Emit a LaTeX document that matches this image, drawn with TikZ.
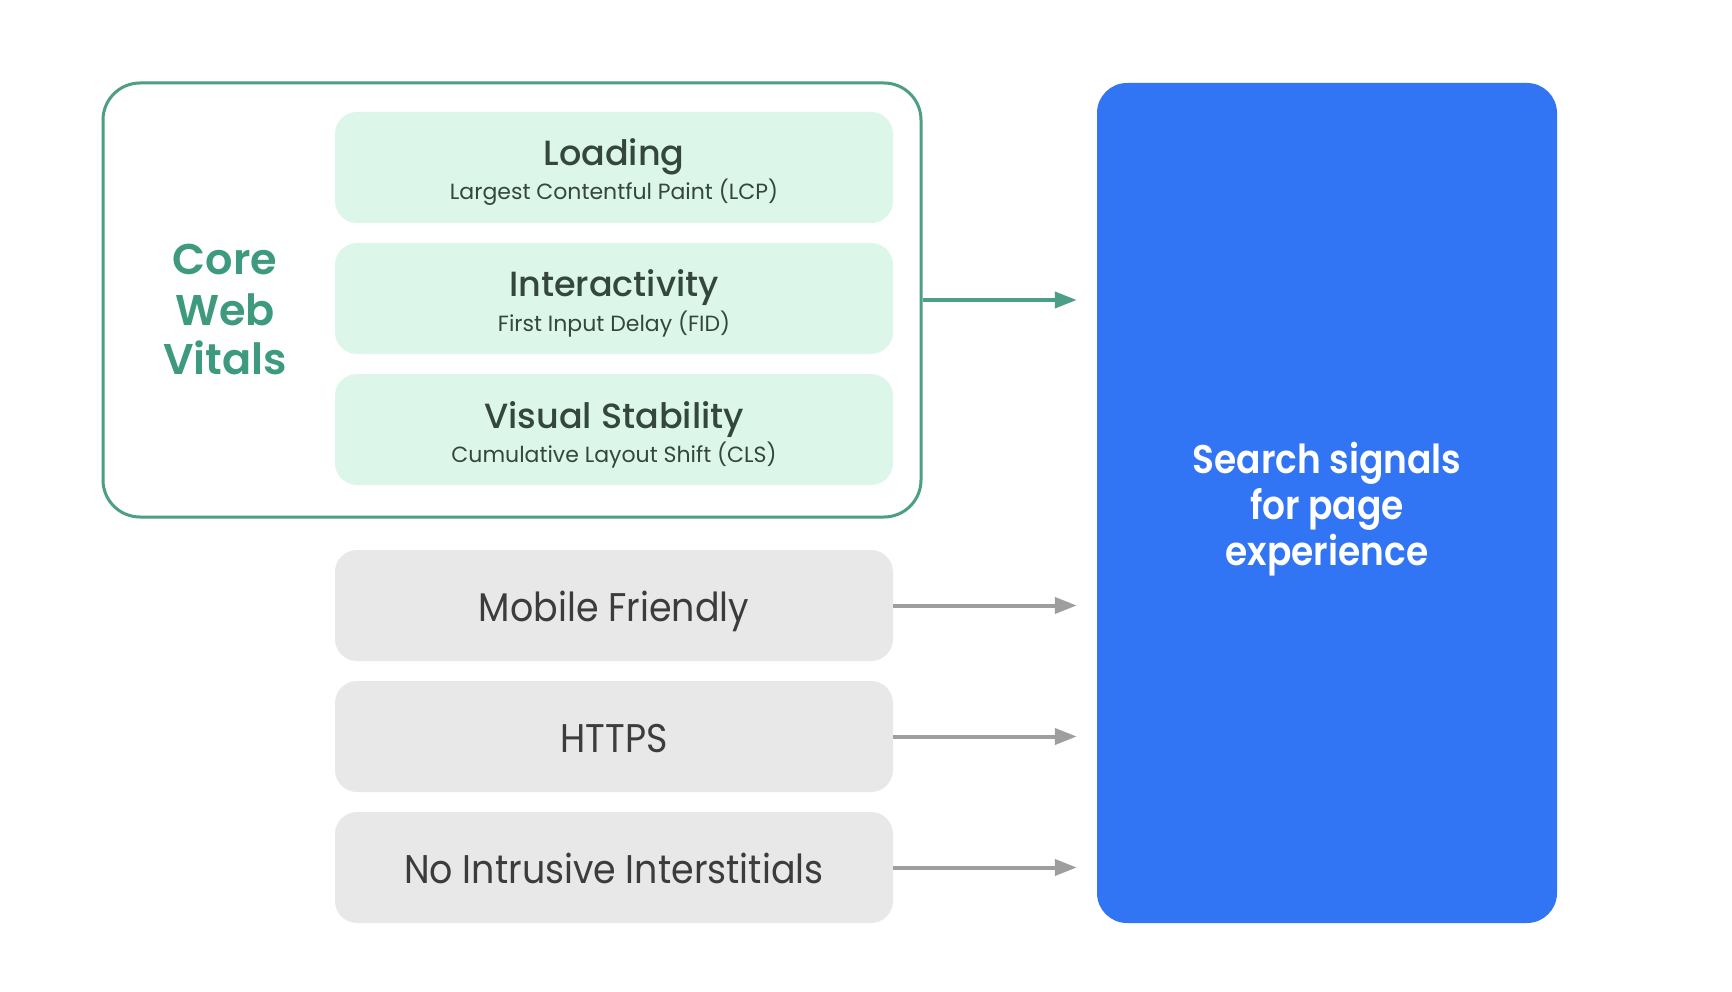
\documentclass[tikz,border=0pt]{standalone}
\usepackage{fontspec}
\setmainfont{Poppins}
\newfontfamily\graysans[FakeStretch=0.91]{Poppins}
\newfontfamily\semib{Poppins SemiBold}
\newfontfamily\semibn[FakeStretch=0.9]{Poppins SemiBold}
\newfontfamily\medf{Poppins Medium}
\usetikzlibrary{arrows.meta}
\definecolor{cwvgreen}{HTML}{4C9E87}
\definecolor{cwvtext}{HTML}{3D9A7E}
\definecolor{mint}{HTML}{DCF7E9}
\definecolor{lgray}{HTML}{E8E8E8}
\definecolor{sigblue}{HTML}{3174F4}
\definecolor{arrgray}{HTML}{9E9E9E}
\definecolor{darktext}{HTML}{3C3C3C}
\definecolor{greentext}{HTML}{34463E}
\tikzset{
  outerbox/.style={draw=cwvgreen, line width=3pt, rounded corners=37pt, minimum width=818pt, minimum height=434pt, inner sep=0pt},
  mintbox/.style={fill=mint, rounded corners=22pt, minimum width=558pt, minimum height=111pt, inner sep=0pt},
  graybox/.style={fill=lgray, rounded corners=22pt, minimum width=558pt, minimum height=111pt, inner sep=0pt},
  bluebox/.style={fill=sigblue, rounded corners=30pt, minimum width=460pt, minimum height=840pt, inner sep=0pt},
  titletext/.style={text=greentext, font=\fontsize{35}{40}\selectfont\medf, anchor=base, inner sep=0pt},
  subtext/.style={text=greentext, font=\fontsize{22}{26}\selectfont, anchor=base, inner sep=0pt},
  graytext/.style={text=darktext, font=\fontsize{40}{44}\selectfont\graysans, anchor=base, inner sep=0pt},
  cwvlabel/.style={text=cwvtext, font=\fontsize{43}{48}\selectfont\semib, anchor=base, inner sep=0pt},
  bluetext/.style={text=white, font=\fontsize{40}{44}\selectfont\semibn, anchor=base, inner sep=0pt},
  greenarrow/.style={draw=cwvgreen, line width=4pt, -{Triangle[length=22pt,width=16pt]}, shorten >=20pt},
  grayarrow/.style={draw=arrgray, line width=4pt, -{Triangle[length=22pt,width=16pt]}, shorten >=20pt},
}
\begin{document}
\begin{tikzpicture}[x=1pt,y=-1pt]
\useasboundingbox[fill=white] (0,0) rectangle (1732,992);
% outer Core Web Vitals box
\node[outerbox] (outer) at (512,300) {};
% mint boxes
\node[mintbox] (b1) at (614,167.5) {};
\node[mintbox] (b2) at (614,298.5) {};
\node[mintbox] (b3) at (614,429.5) {};
% gray boxes
\node[graybox] (g1) at (614,605.5) {};
\node[graybox] (g2) at (614,736.5) {};
\node[graybox] (g3) at (614,867.5) {};
% blue box
\node[bluebox] (blue) at (1327,503) {};
% mint box texts
\node[titletext] (t1) at ([yshift=1.5pt]b1.center) {Loading};
\node[subtext] (s1) at ([yshift=-32.5pt]b1.center) {Largest Contentful Paint (LCP)};
\node[titletext] (t2) at ([yshift=1.5pt]b2.center) {Interactivity};
\node[subtext] (s2) at ([yshift=-32.5pt]b2.center) {First Input Delay (FID)};
\node[titletext] (t3) at ([yshift=1.5pt]b3.center) {Visual Stability};
\node[subtext] (s3) at ([yshift=-32.5pt]b3.center) {Cumulative Layout Shift (CLS)};
% gray box texts
\node[graytext] (gt1) at ([yshift=-15.5pt]g1.center) {Mobile Friendly};
\node[graytext] (gt2) at ([yshift=-15.5pt]g2.center) {HTTPS};
\node[graytext] (gt3) at ([yshift=-15.5pt]g3.center) {No Intrusive Interstitials};
% Core Web Vitals label
\node[cwvlabel] (c1) at (225,275) {Core};
\node[cwvlabel] (c2) at (225,325) {Web};
\node[cwvlabel] (c3) at (225,374) {Vitals};
% blue box text
\node[bluetext] (bt1) at (1327,473) {Search signals};
\node[bluetext] (bt2) at (1327,519) {for page};
\node[bluetext] (bt3) at (1327,565) {experience};
% arrows
\draw[greenarrow] (outer.east) -- (outer.east -| blue.west);
\draw[grayarrow] (g1.east) -- (g1.east -| blue.west);
\draw[grayarrow] (g2.east) -- (g2.east -| blue.west);
\draw[grayarrow] (g3.east) -- (g3.east -| blue.west);
\end{tikzpicture}
\end{document}
